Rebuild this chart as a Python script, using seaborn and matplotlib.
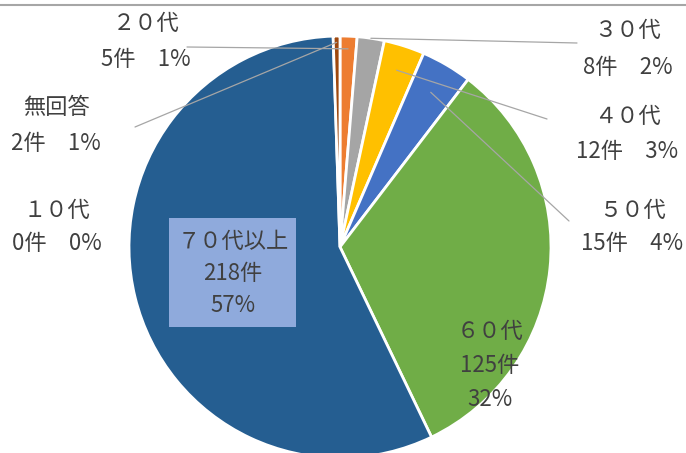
import numpy as np
import seaborn as sns
import matplotlib.pyplot as plt
from matplotlib.patches import Rectangle

categories = ["１０代", "２０代", "３０代", "４０代", "５０代", "６０代", "７０代以上", "無回答"]
counts = [0, 5, 8, 12, 15, 125, 218, 2]
colors = ["#4472C4", "#ED7D31", "#A5A5A5", "#FFC000", "#4472C4", "#70AD47", "#255E91", "#9E480E"]

sns.set_theme(style="white")
plt.rcParams['font.family'] = ['Noto Sans CJK JP', 'DejaVu Sans']

W, H = 686, 453
fig = plt.figure(figsize=(6.86, 4.53), dpi=100)
ax = fig.add_axes([0, 0, 1, 1])

cx, cy, R = 340, H - 247, 211
wedges, _ = ax.pie(counts, colors=colors, startangle=90, counterclock=False,
                   center=(cx, cy), radius=R,
                   wedgeprops=dict(edgecolor='white', linewidth=2))
ax.set_xlim(0, W)
ax.set_ylim(0, H)
ax.set_aspect('equal')
ax.axis('off')

total = sum(counts)
txt = dict(ha='center', va='center', fontsize=16, color='#404040')

# outside labels: center x, name line y, value line y, leader end (x, y), anchor radius factor
outside = {
    "２０代": (146, 23, 59, (187, 47), 0.94),
    "３０代": (628, 30, 67, (577, 43), 1.0),
    "４０代": (627, 116, 151, (547, 119), 0.88),
    "５０代": (632, 210, 243, (569, 221), 0.85),
    "無回答": (56, 107, 143, (135, 127), 0.97),
    "１０代": (57, 210, 243, None, 0),
}

for w, name, n in zip(wedges, categories, counts):
    if name not in outside:
        continue
    x, y1, y2, lead, rf = outside[name]
    pct = round(n / total * 100)
    ax.text(x, H - y1, name, **txt)
    ax.text(x, H - y2, f"{n}件　{pct}%", **txt)
    if lead is not None:
        ang = np.deg2rad((w.theta1 + w.theta2) / 2)
        px = cx + R * rf * np.cos(ang)
        py = cy + R * rf * np.sin(ang)
        ax.plot([lead[0], px], [H - lead[1], py], color='#A6A6A6', lw=0.9)

# inside labels
n70 = counts[6]
ax.add_patch(Rectangle((169, H - 327), 127, 109, facecolor='#8FAADC', edgecolor='none'))
ax.text(233, H - 241, categories[6], **txt)
ax.text(233, H - 274, f"{n70}件", **txt)
ax.text(233, H - 306, f"{round(n70 / total * 100)}%", **txt)

n60 = counts[5]
ax.text(490, H - 331, categories[5], **txt)
ax.text(490, H - 366, f"{n60}件", **txt)
ax.text(490, H - 400, f"{round(n60 / total * 100)}%", **txt)

ax.axhline(H - 5, color='#A6A6A6', lw=1.5)

fig.savefig('out.png', dpi=100)
